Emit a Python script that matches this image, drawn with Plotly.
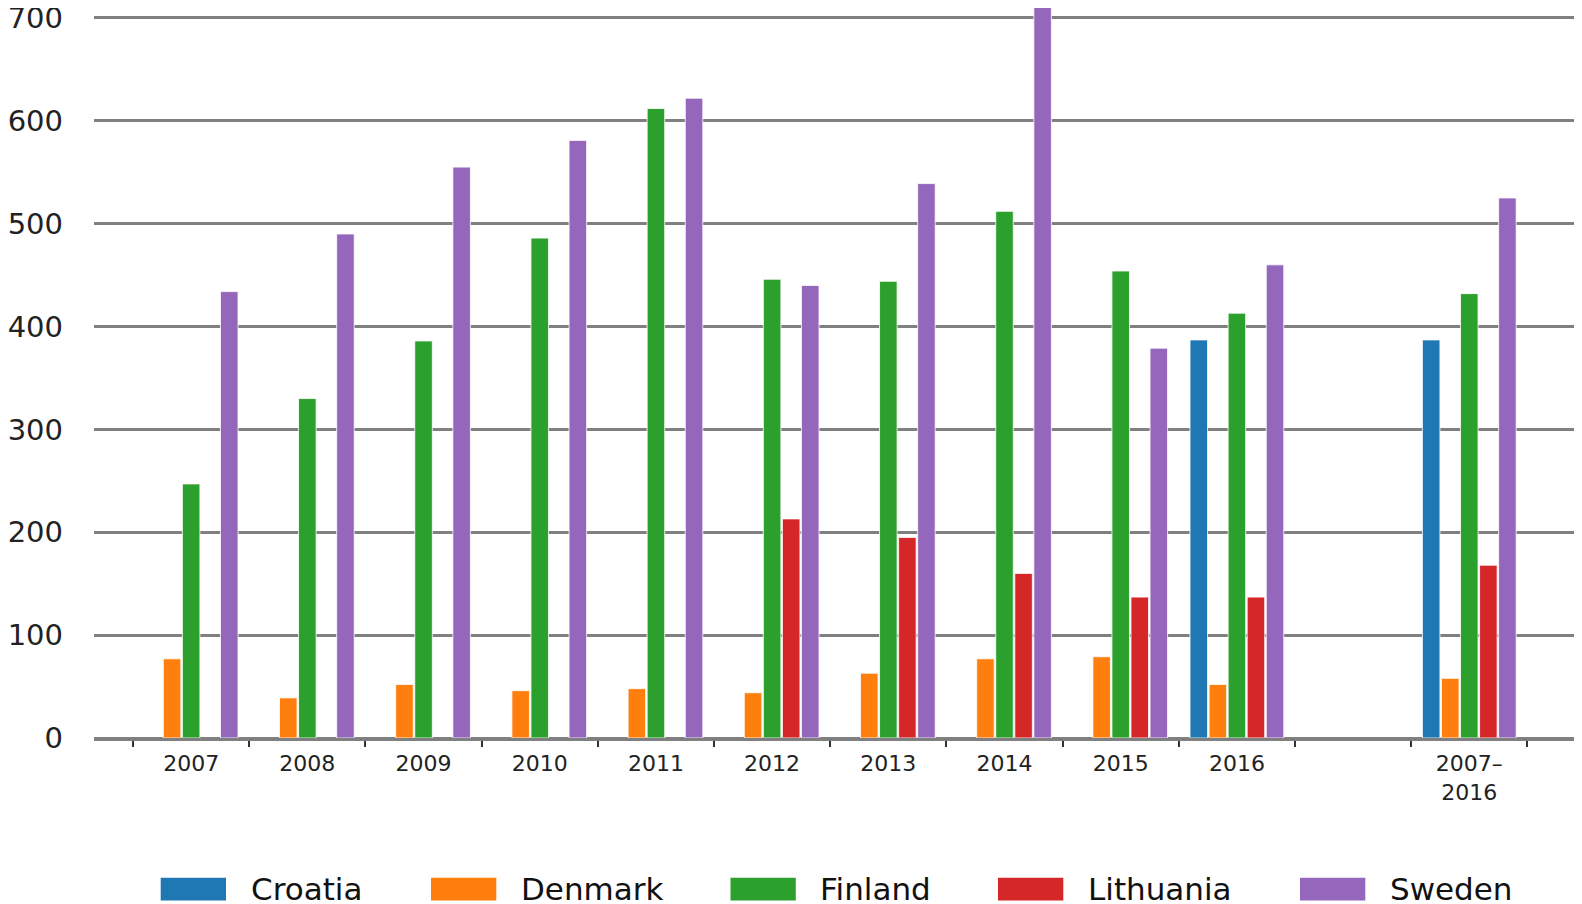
import plotly.graph_objects as go

categories = ["2007", "2008", "2009", "2010", "2011", "2012", "2013", "2014",
              "2015", "2016", " ", "2007–<br>2016"]

croatia = [None, None, None, None, None, None, None, None, None, 387, None, 387]
denmark = [77, 39, 52, 46, 48, 44, 63, 77, 79, 52, None, 58]
finland = [247, 330, 386, 486, 612, 446, 444, 512, 454, 413, None, 432]
lithuania = [None, None, None, None, None, 213, 195, 160, 137, 137, None, 168]
sweden = [434, 490, 555, 581, 622, 440, 539, 760, 379, 460, None, 525]

series_names = ["Croatia", "Denmark", "Finland", "Lithuania", "Sweden"]
series_values = [croatia, denmark, finland, lithuania, sweden]
colors = ["#1f77b4", "#ff7f0e", "#2ca02c", "#d62728", "#9467bd"]

# figure is placed by the page 8px from the top-left corner
W, H = 1574, 896
ML, MB = 86, 165.5
plot_w = W - ML
plot_h = H - MB

fig = go.Figure()
for name, vals, col in zip(series_names, series_values, colors):
    fig.add_trace(go.Bar(
        x=categories, y=vals, name=name, showlegend=False,
        marker=dict(color=col, line=dict(color="white", width=0.8)),
    ))

# legend drawn as large swatches (matplotlib-style) below the plot
legend_left_px = [152.7, 423, 722.5, 990, 1292]
sw_w, sw_h = 65.3, 22.7
sw_top_px = 870.3
text_gap = 22.5
text_mid_px = 881.5
shapes, annotations = [], []
for name, col, lx in zip(series_names, colors, legend_left_px):
    shapes.append(dict(type="rect", xref="paper", yref="paper",
                       x0=(lx - ML) / plot_w, x1=(lx + sw_w - ML) / plot_w,
                       y0=(plot_h - (sw_top_px + sw_h)) / plot_h,
                       y1=(plot_h - sw_top_px) / plot_h,
                       fillcolor=col, line=dict(width=0)))
    annotations.append(dict(xref="paper", yref="paper",
                            x=(lx + sw_w + text_gap - ML) / plot_w,
                            y=(plot_h - text_mid_px) / plot_h,
                            xanchor="left", yanchor="middle", text=name,
                            showarrow=False,
                            font=dict(size=31, color="#111111",
                                      family="DejaVu Sans")))

fig.update_layout(
    width=W, height=H,
    margin=dict(l=ML, r=0, t=0, b=MB),
    barmode="group", bargap=0.18, bargroupgap=0.08,
    plot_bgcolor="white", paper_bgcolor="white",
    font=dict(family="DejaVu Sans", color="#222222"),
    showlegend=False,
    shapes=shapes, annotations=annotations,
)

fig.update_xaxes(
    type="category", range=[-0.836, 11.97], automargin=False,
    tickson="boundaries", ticks="outside", ticklen=6, tickwidth=1.5,
    tickcolor="#333333",
    showline=True, linecolor="#808080", linewidth=2.5,
    showgrid=False, tickfont=dict(size=22, color="#222222"),
    ticklabelstandoff=4,
)
fig.update_yaxes(
    range=[0, 709.7], tickvals=[0, 100, 200, 300, 400, 500, 600, 700],
    automargin=False, ticklabeloverflow="allow",
    showgrid=True, gridcolor="#808080", gridwidth=2.5,
    zeroline=True, zerolinecolor="#808080", zerolinewidth=2.5,
    showline=False, ticks="",
    tickfont=dict(size=29, color="#222222"), ticklabelstandoff=30,
)

fig.write_html("out.html")
